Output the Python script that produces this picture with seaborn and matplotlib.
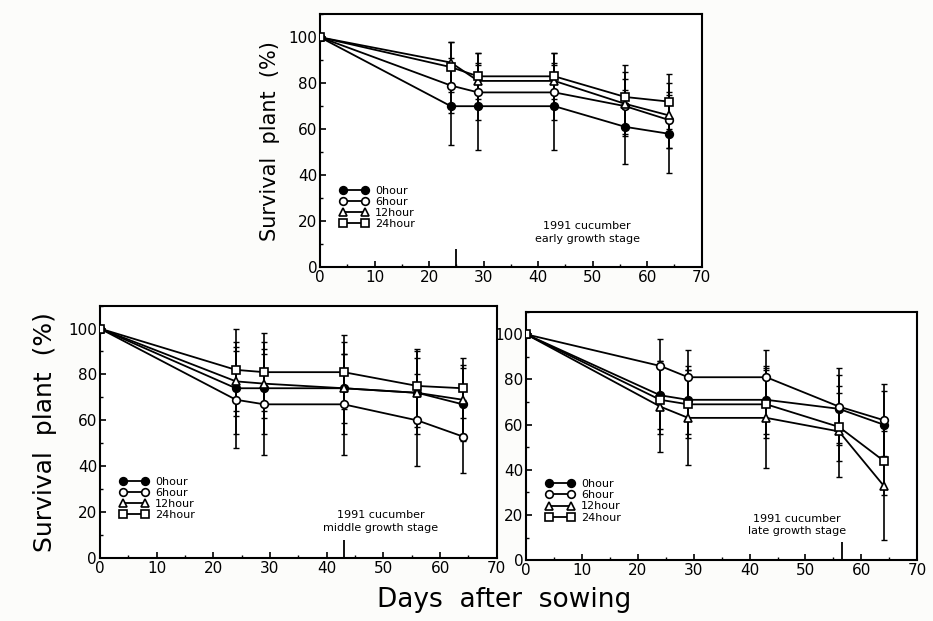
import numpy as np
import pandas as pd
import matplotlib
matplotlib.use("Agg")
import matplotlib.pyplot as plt
import seaborn as sns
from matplotlib.ticker import MultipleLocator

sns.set_theme(style="ticks")
plt.rcParams['font.family'] = ['DejaVu Sans']
plt.rcParams['text.color'] = 'black'
plt.rcParams['axes.labelcolor'] = 'black'
plt.rcParams['xtick.color'] = 'black'
plt.rcParams['ytick.color'] = 'black'

days = [0, 24, 29, 43, 56, 64]
series_names = ["0hour", "6hour", "12hour", "24hour"]

# early growth stage
early_mean = {
    "0hour":  [100, 70, 70, 70, 61, 58],
    "6hour":  [100, 79, 76, 76, 70, 64],
    "12hour": [100, 89, 81, 81, 71, 66],
    "24hour": [100, 87, 83, 83, 74, 72],
}
early_sd = {
    "0hour":  [0, 17, 19, 19, 16, 17],
    "6hour":  [0, 12, 12, 12, 12, 12],
    "12hour": [0, 9, 12, 12, 14, 14],
    "24hour": [0, 11, 10, 10, 14, 12],
}
# middle growth stage
middle_mean = {
    "0hour":  [100, 74, 74, 74, 72, 67],
    "6hour":  [100, 69, 67, 67, 60, 53],
    "12hour": [100, 77, 76, 74, 72, 69],
    "24hour": [100, 82, 81, 81, 75, 74],
}
middle_sd = {
    "0hour":  [0, 20, 20, 20, 18, 16],
    "6hour":  [0, 21, 22, 22, 20, 16],
    "12hour": [0, 15, 15, 15, 15, 15],
    "24hour": [0, 18, 17, 16, 16, 13],
}
# late growth stage
late_mean = {
    "0hour":  [100, 73, 71, 71, 67, 60],
    "6hour":  [100, 86, 81, 81, 68, 62],
    "12hour": [100, 68, 63, 63, 57, 33],
    "24hour": [100, 71, 69, 69, 59, 44],
}
late_sd = {
    "0hour":  [0, 15, 15, 15, 15, 15],
    "6hour":  [0, 12, 12, 12, 17, 16],
    "12hour": [0, 20, 21, 22, 20, 24],
    "24hour": [0, 15, 15, 15, 15, 15],
}

stage_titles = ["1991 cucumber\nearly growth stage",
                "1991 cucumber\nmiddle growth stage",
                "1991 cucumber\nlate growth stage"]
stage_day = [25, 43, 56.5]

marker_style = {
    "0hour":  dict(marker="o", markerfacecolor="black"),
    "6hour":  dict(marker="o", markerfacecolor="white"),
    "12hour": dict(marker="^", markerfacecolor="white"),
    "24hour": dict(marker="s", markerfacecolor="white"),
}

fig = plt.figure(figsize=(9.33, 6.21), dpi=100, facecolor="#fcfcfa")
ax_top = fig.add_axes([0.343, 0.570, 0.409, 0.407])
ax_bl = fig.add_axes([0.107, 0.101, 0.4255, 0.407])
ax_br = fig.add_axes([0.564, 0.098, 0.419, 0.400])

panels = [(ax_top, early_mean, early_sd, stage_titles[0], stage_day[0], 49, 15),
          (ax_bl, middle_mean, middle_sd, stage_titles[1], stage_day[1], 49.5, 16),
          (ax_br, late_mean, late_sd, stage_titles[2], stage_day[2], 48.5, 15.5)]

for ax, means, sds, title, sday, tx, ty in panels:
    for name in series_names:
        df = pd.DataFrame({"day": days, "surv": means[name]})
        ax.errorbar(df["day"], df["surv"], yerr=sds[name], fmt="none",
                    ecolor="black", elinewidth=1.2, capsize=2, capthick=1.0, zorder=2)
    for name in series_names:
        df = pd.DataFrame({"day": days, "surv": means[name]})
        sns.lineplot(data=df, x="day", y="surv", ax=ax, color="black",
                     linewidth=1.3, markersize=5.5, markeredgecolor="black",
                     markeredgewidth=1.2, label=name, zorder=3,
                     **marker_style[name])
    ax.vlines([sday], 0, 8, color="black", linewidth=1.3)
    ax.text(tx, ty, title, ha="center", va="center", fontsize=8, linespacing=1.3)
    ax.set_xlim(0, 70)
    ax.set_ylim(0, 110)
    ax.set_xticks(range(0, 71, 10))
    ax.set_yticks(range(0, 101, 20))
    ax.xaxis.set_minor_locator(MultipleLocator(5))
    ax.yaxis.set_minor_locator(MultipleLocator(10))
    ax.tick_params(which="major", direction="in", length=4, width=1.2, labelsize=11, pad=2)
    ax.tick_params(which="minor", direction="in", length=2, width=1.0)
    for sp in ax.spines.values():
        sp.set_linewidth(1.5)
        sp.set_color("black")
    ax.set_xlabel("")
    ax.set_ylabel("")
    ax.set_facecolor("white")
    ax.legend(numpoints=2, frameon=False, loc="lower left",
              bbox_to_anchor=(0.03, 0.12), fontsize=8, handlelength=2.6,
              handletextpad=0.6, labelspacing=0.1, borderpad=0.2)

ax_top.set_ylabel("Survival  plant  (%)", fontsize=15, labelpad=6)
ax_bl.set_ylabel("Survival  plant  (%)", fontsize=18, labelpad=8)
fig.text(0.54, 0.034, "Days  after  sowing", ha="center", va="center", fontsize=19)

fig.savefig("out.png", dpi=100, facecolor=fig.get_facecolor())
